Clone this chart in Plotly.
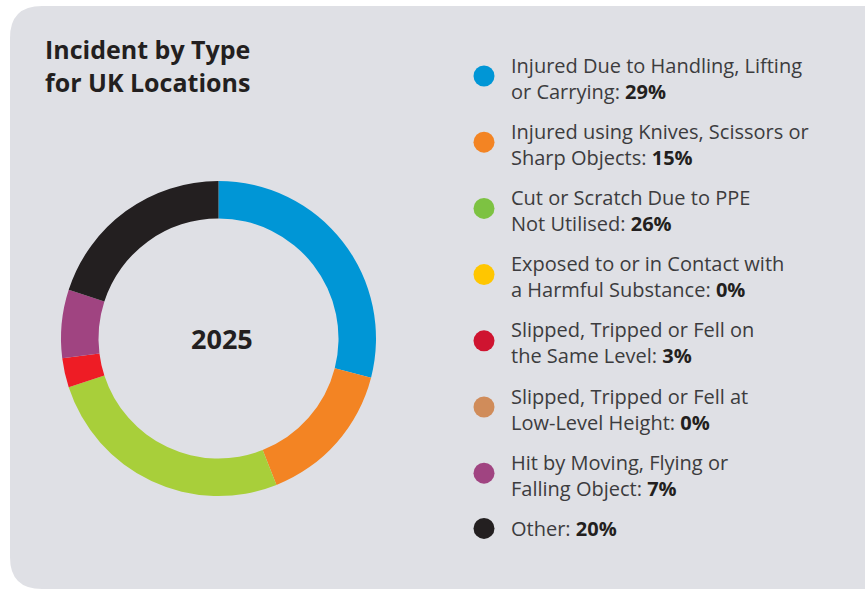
import plotly.graph_objects as go

# ---- data ----
categories = [
    "Injured Due to Handling, Lifting\nor Carrying",
    "Injured using Knives, Scissors or\nSharp Objects",
    "Cut or Scratch Due to PPE\nNot Utilised",
    "Exposed to or in Contact with\na Harmful Substance",
    "Slipped, Tripped or Fell on\nthe Same Level",
    "Slipped, Tripped or Fell at\nLow-Level Height",
    "Hit by Moving, Flying or\nFalling Object",
    "Other",
]
values = [29, 15, 26, 0, 3, 0, 7, 20]
slice_colors = ["#0096d6", "#f38423", "#a8cf3a", "#ffc600", "#ee1c25", "#d08c5a", "#a04481", "#231f20"]
legend_colors = ["#0096d6", "#f38423", "#7dc242", "#ffc600", "#cf1430", "#d08c5a", "#a04481", "#231f20"]
title_text = "Incident by Type<br>for UK Locations"
center_label = "2025"

W, H = 865, 590
PANEL = "#dfe0e5"
TXT = "#3c3c3e"
DARK = "#231f20"
FONT = "Open Sans"

fig = go.Figure()

# donut
cx, cy, R = 218.5, 338.5, 157.5
fig.add_trace(go.Pie(
    values=values, labels=[c.replace("\n", " ") for c in categories],
    marker=dict(colors=slice_colors, line=dict(width=0)),
    hole=0.762, sort=False, direction="clockwise", rotation=0,
    textinfo="none", hoverinfo="skip", showlegend=False,
    domain=dict(x=[(cx - R) / W, (cx + R) / W], y=[(H - cy - R) / H, (H - cy + R) / H]),
))

# custom legend (circles + text), layout positions computed from index
lx, tx = 484, 509
line1 = [65 + 66.2 * i for i in range(len(categories))]
nlines = [c.count("\n") + 1 for c in categories]
circ_y = [l + (n - 1) * 11 for l, n in zip(line1, nlines)]
text_y = [l + (n - 1) * 13 for l, n in zip(line1, nlines)]

fig.add_trace(go.Scatter(
    x=[lx] * len(categories), y=circ_y, mode="markers",
    marker=dict(size=21, color=legend_colors, line=dict(width=0)),
    hoverinfo="skip", showlegend=False, xaxis="x", yaxis="y",
))

annotations = []
for c, v, ty in zip(categories, values, text_y):
    annotations.append(dict(
        x=tx, y=ty, xref="x", yref="y", xanchor="left", yanchor="middle", align="left",
        text=c.replace("\n", "<br>") + f": <b><span style='color:{DARK}'>{v}%</span></b>",
        showarrow=False, font=dict(family=FONT, size=20, color=TXT),
    ))
annotations.append(dict(
    x=43, y=30, xref="x", yref="y", xanchor="left", yanchor="top", align="left",
    text=f"<b>{title_text}</b>", showarrow=False,
    font=dict(family=FONT, size=25, color=DARK),
))
annotations.append(dict(
    x=222, y=338, xref="x", yref="y", xanchor="center", yanchor="middle",
    text=f"<b>{center_label}</b>", showarrow=False,
    font=dict(family=FONT, size=27, color=DARK),
))

# rounded panel
x0, y0, x1, y1, r = 10, 6, 900, 589, 32
panel_path = (f"M {x0+r},{y0} L {x1},{y0} L {x1},{y1} L {x0+r},{y1} "
              f"Q {x0},{y1} {x0},{y1-r} L {x0},{y0+r} Q {x0},{y0} {x0+r},{y0} Z")

fig.update_layout(
    width=W, height=H, margin=dict(l=0, r=0, t=0, b=0),
    paper_bgcolor="white", plot_bgcolor="rgba(0,0,0,0)",
    xaxis=dict(range=[0, W], domain=[0, 1], visible=False, fixedrange=True),
    yaxis=dict(range=[H, 0], domain=[0, 1], visible=False, fixedrange=True),
    shapes=[dict(type="path", path=panel_path, xref="x", yref="y",
                 fillcolor=PANEL, line=dict(width=0), layer="below")],
    annotations=annotations,
    showlegend=False,
)

fig.write_html("out.html", config={"displayModeBar": False},
               post_script="document.body.style.margin='0px';document.body.style.overflow='hidden';")
